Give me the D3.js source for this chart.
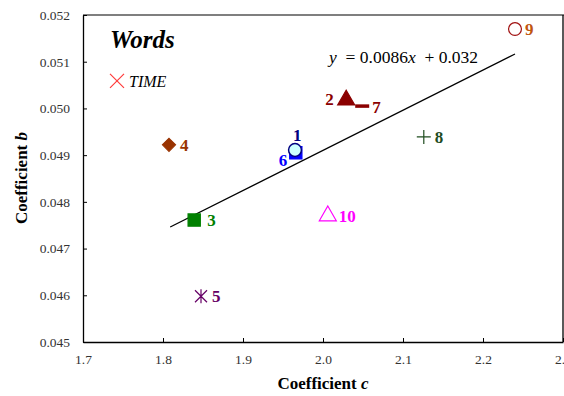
<!DOCTYPE html>
<html>
<head>
<meta charset="utf-8">
<script src="https://cdn.jsdelivr.net/npm/d3@7"></script>
<style>
body { margin: 0; background: #fff; }
svg text { font-family: "Liberation Serif", "DejaVu Serif", "Times New Roman", serif !important; }
</style>
</head>
<body>
<svg class="svg"></svg>
<script>
let labels = ["TIME", "1", "6", "2", "7", "9", "8", "4", "3", "10", "5"]
let cValues = [1.7425, 1.965, 1.966, 2.029, 2.049, 2.24, 2.126, 1.8075, 1.839, 2.006, 1.8475]
let bValues = [0.05059, 0.04911, 0.04905, 0.05018, 0.05005, 0.0517, 0.04939, 0.04922, 0.04761, 0.0477, 0.04598]
let shapes = ["x", "circle", "square", "triangle", "dash", "ocircle", "plus", "diamond", "square", "otriangle", "asterisk"]
let colors = ["#ff3b3b", "#000080", "#0000ff", "#8b0000", "#8b0000", "#a01010", "#1f4d1f", "#993300", "#008000", "#ff00ff", "#660066"]
let labelColors = ["#000", "#000080", "#0000ff", "#8b0000", "#8b0000", "#c0560f", "#1f4d1f", "#993300", "#008000", "#ff00ff", "#660066"]
let fitC = [1.809, 2.24]
let fitB = [0.04746, 0.051165]
let xTicks = [1.7, 1.8, 1.9, 2.0, 2.1, 2.2, 2.3]
let yTicks = [0.045, 0.046, 0.047, 0.048, 0.049, 0.050, 0.051, 0.052]

let svg = d3.select(".svg").attr("width", 564).attr("height", 396)

let x = d3.scaleLinear().domain([1.7, 2.3]).range([83, 563])
let y = d3.scaleLinear().domain([0.045, 0.052]).range([342, 15])

// frame
svg.append("line").attr("x1", 83).attr("x2", 564).attr("y1", 15).attr("y2", 15)
    .attr("stroke", "#555").attr("stroke-width", 1.3)
svg.append("line").attr("x1", 563).attr("x2", 563).attr("y1", 15).attr("y2", 342)
    .attr("stroke", "#000").attr("stroke-width", 1.3)

let xAxis = svg.append("g").attr("transform", "translate(0,342)")
    .call(d3.axisBottom(x).tickValues(xTicks).tickSizeInner(-4).tickSizeOuter(0).tickPadding(12)
        .tickFormat(d3.format(".1f")))
let yAxis = svg.append("g").attr("transform", "translate(83,0)")
    .call(d3.axisLeft(y).tickValues(yTicks).tickSizeInner(-4).tickSizeOuter(0).tickPadding(13)
        .tickFormat(d3.format(".3f")))
svg.selectAll("g").attr("font-family", null)
svg.selectAll(".domain").attr("stroke", "#000").attr("stroke-width", 1.3)
svg.selectAll(".tick line").attr("stroke", "#000")
svg.selectAll(".tick text").attr("font-size", 13.5).attr("fill", "#333")

svg.append("text").attr("x", 323).attr("y", 389).attr("text-anchor", "middle")
    .attr("font-size", 17).attr("font-weight", "bold")
    .html('Coefficient <tspan font-style="italic">c</tspan>')
svg.append("text").attr("transform", "translate(27,178) rotate(-90)").attr("text-anchor", "middle")
    .attr("font-size", 17).attr("font-weight", "bold")
    .html('Coefficient <tspan font-style="italic">b</tspan>')

svg.append("text").attr("x", 110).attr("y", 48).attr("font-size", 25)
    .attr("font-weight", "bold").attr("font-style", "italic").text("Words")

// trend line
svg.append("line")
    .attr("x1", x(fitC[0])).attr("y1", y(fitB[0]))
    .attr("x2", x(fitC[1])).attr("y2", y(fitB[1]))
    .attr("stroke", "#000").attr("stroke-width", 1.2)
svg.append("text").attr("x", 329).attr("y", 63).attr("font-size", 17.5)
    .attr("xml:space", "preserve")
    .html('<tspan font-style="italic">y</tspan>  = 0.0086<tspan font-style="italic">x</tspan>  + 0.032')

let markerPath = (shape) => {
    let s = 6
    if (shape == "x") return `M${-s-1},${-s-1}L${s+1},${s+1}M${-s-1},${s+1}L${s+1},${-s-1}`
    if (shape == "plus") return `M${-s-1},0L${s+1},0M0,${-s-1}L0,${s+1}`
    if (shape == "asterisk") return `M${-s},${-s}L${s},${s}M${-s},${s}L${s},${-s}M0,${-s-1}L0,${s+1}`
    if (shape == "dash") return `M-7,0L7,0`
    if (shape == "circle" || shape == "ocircle") return d3.symbol(d3.symbolCircle, 130)()
    if (shape == "square") return d3.symbol(d3.symbolSquare, 150)()
    if (shape == "diamond") return `M0,-6.5L6.5,0L0,6.5L-6.5,0Z`
    if (shape == "triangle" || shape == "otriangle") return d3.symbol(d3.symbolTriangle, 125)()
}

let idx = d3.range(labels.length)
// draw 6 before 1 so the circle sits on top
let order = [0, 2, 1, 3, 4, 5, 6, 7, 8, 9, 10]

svg.selectAll(".mark")
    .data(order)
    .enter()
    .append("path")
    .attr("class", "mark")
    .attr("transform", (i) => `translate(${x(cValues[i])},${y(bValues[i])})`)
    .attr("d", (i) => markerPath(shapes[i]))
    .attr("fill", (i) => {
        let s = shapes[i]
        if (s == "circle") return "#ccffff"
        if (s == "square" || s == "triangle" || s == "diamond") return colors[i]
        return "none"
    })
    .attr("stroke", (i) => colors[i])
    .attr("stroke-width", (i) => shapes[i] == "dash" ? 3.5 : (shapes[i] == "circle" ? 1.5 : 1.2))

let labelOffsets = {
    "TIME": [12, 6], "1": [-2, -9], "6": [-17, 13], "2": [-21, 5], "7": [10, 7], "9": [10, 6],
    "8": [11, 6], "4": [11, 6], "3": [13, 6], "10": [11, 6], "5": [11, 6]
}

svg.selectAll(".lbl")
    .data(idx)
    .enter()
    .append("text")
    .attr("class", "lbl")
    .attr("x", (i) => x(cValues[i]) + labelOffsets[labels[i]][0])
    .attr("y", (i) => y(bValues[i]) + labelOffsets[labels[i]][1])
    .attr("font-size", (i) => labels[i] == "TIME" ? 16 : 17)
    .attr("font-weight", (i) => labels[i] == "TIME" ? "normal" : "bold")
    .attr("font-style", (i) => labels[i] == "TIME" ? "italic" : "normal")
    .attr("fill", (i) => labelColors[i])
    .text((i) => labels[i])
</script>
</body>
</html>
